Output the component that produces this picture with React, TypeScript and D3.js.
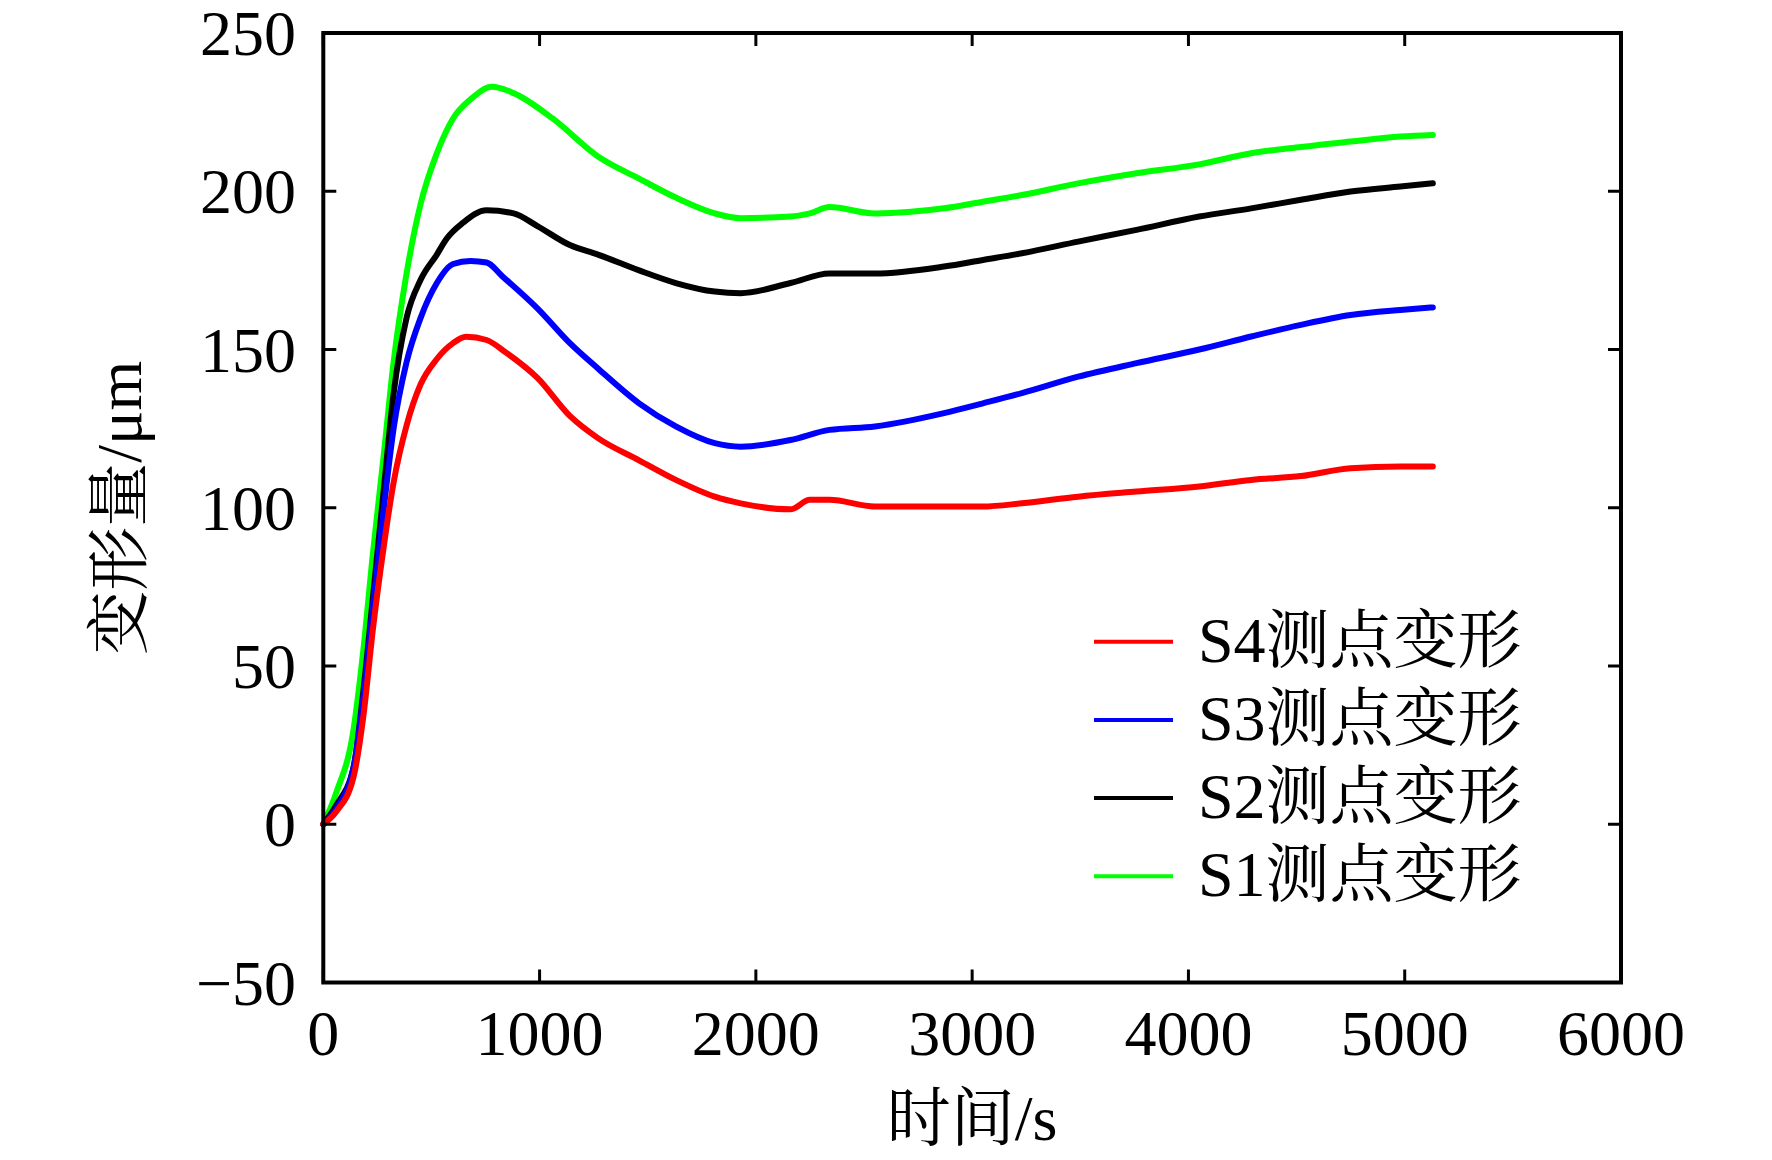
import React from "react";
import * as d3 from "d3";

// ---- data (time in s, deformation in μm) ----
const s1Points: [number, number][] = [
  [0, 0], [60, 10], [140, 30], [185, 55], [230, 86], [280, 117], [325, 146], [385, 174],
  [450, 196], [525, 212], [600, 223], [680, 229], [780, 233], [880, 231], [1060, 223],
  [1270, 211], [1460, 204], [1630, 198], [1810, 193], [1930, 191.5], [2160, 192],
  [2250, 193], [2340, 195], [2550, 193], [2870, 194.6], [3050, 196.7], [3230, 198.8],
  [3490, 202.5], [3760, 205.7], [4050, 208.5], [4290, 212], [4520, 214], [4750, 215.7],
  [4980, 217.3], [5130, 217.8],
];
const s2Points: [number, number][] = [
  [0, 0], [60, 6], [140, 18], [185, 42], [230, 72], [280, 106], [325, 136], [385, 160],
  [450, 172], [525, 180], [570, 185], [645, 190], [755, 194], [880, 193], [990, 189],
  [1140, 183], [1270, 180], [1460, 175], [1630, 171], [1810, 168.3], [1930, 167.8],
  [2160, 171], [2340, 174], [2550, 174], [2870, 176.2], [3050, 178.3], [3230, 180.4],
  [3490, 184.1], [3760, 187.8], [4050, 192], [4290, 194.6], [4520, 197.3], [4750, 199.9],
  [4980, 201.5], [5130, 202.5],
];
const s3Points: [number, number][] = [
  [0, 0], [60, 5], [140, 18], [185, 40], [230, 69], [280, 100], [325, 125], [385, 146],
  [450, 160], [525, 171], [600, 177], [680, 178], [755, 177.5], [830, 173], [990, 163],
  [1140, 152], [1270, 144], [1460, 133], [1630, 125.7], [1810, 120.4], [1930, 119.3],
  [2160, 121.4], [2340, 124.6], [2550, 125.7], [2870, 129.9], [3050, 133], [3230, 136.2],
  [3490, 141.4], [3760, 145.7], [4050, 150], [4290, 154.1], [4520, 157.8], [4750, 160.9],
  [4980, 162.5], [5130, 163.3],
];
const s4Points: [number, number][] = [
  [0, 0], [60, 4], [140, 15], [185, 34], [230, 62], [280, 88], [325, 108], [385, 126],
  [450, 139], [525, 147], [600, 152], [660, 154], [755, 153], [845, 149], [990, 141],
  [1140, 129], [1270, 122], [1460, 115], [1630, 108.8], [1810, 103.5], [1930, 101.4],
  [2160, 99.5], [2250, 102.5], [2340, 102.5], [2550, 100.4], [2870, 100.4], [3050, 100.4],
  [3230, 101.4], [3490, 103.5], [3760, 105.1], [4050, 106.7], [4290, 108.8], [4520, 110],
  [4750, 112.5], [4980, 113], [5130, 113],
];

const seriesNames = ["S4测点变形", "S3测点变形", "S2测点变形", "S1测点变形"];
const seriesColors = ["#ff0000", "#0000ff", "#000000", "#00ff00"];
const seriesData = [s4Points, s3Points, s2Points, s1Points];

const xTicks = [0, 1000, 2000, 3000, 4000, 5000, 6000];
const yTicks = [-50, 0, 50, 100, 150, 200, 250];
const xTitle = "时间/s";
const yTitle = "变形量/μm";

const W = 1772;
const H = 1160;
const M = { left: 323.3, right: 1621, top: 33, bottom: 982.5 };
const FONT = "'Liberation Serif', 'Times New Roman', 'Noto Serif CJK SC', 'Noto Sans CJK SC', serif";

export default function App() {
  const x = d3.scaleLinear().domain([0, 6000]).range([M.left, M.right]);
  const y = d3.scaleLinear().domain([-50, 250]).range([M.bottom, M.top]);
  const line = d3
    .line<[number, number]>()
    .x((d) => x(d[0]))
    .y((d) => y(d[1]))
    .curve(d3.curveMonotoneX);

  const fmt = (v: number) => (v < 0 ? "\u2212" + Math.abs(v) : String(v));
  const tickLen = 13;
  const drawOrder = [3, 2, 1, 0];

  return (
    <div style={{ position: "absolute", left: 0, top: 0 }}>
      <svg width={W} height={H} viewBox={`0 0 ${W} ${H}`} style={{ display: "block", background: "#fff" }}>
        <rect x={0} y={0} width={W} height={H} fill="#fff" />
        {/* curves */}
        {drawOrder.map((i) => (
          <path
            key={seriesNames[i]}
            d={line(seriesData[i]) || ""}
            fill="none"
            stroke={seriesColors[i]}
            strokeWidth={6}
            strokeLinejoin="round"
            strokeLinecap="round"
          />
        ))}
        {/* ticks */}
        {xTicks.map((t) => (
          <g key={"xt" + t}>
            <line x1={x(t)} x2={x(t)} y1={M.bottom} y2={M.bottom - tickLen} stroke="#000" strokeWidth={3} />
            <line x1={x(t)} x2={x(t)} y1={M.top} y2={M.top + tickLen} stroke="#000" strokeWidth={3} />
            <text x={x(t)} y={1055} textAnchor="middle" fontFamily={FONT} fontSize={64} fill="#000">
              {fmt(t)}
            </text>
          </g>
        ))}
        {yTicks.map((t) => (
          <g key={"yt" + t}>
            <line x1={M.left} x2={M.left + tickLen} y1={y(t)} y2={y(t)} stroke="#000" strokeWidth={3} />
            <line x1={M.right} x2={M.right - tickLen} y1={y(t)} y2={y(t)} stroke="#000" strokeWidth={3} />
            <text x={296} y={y(t) + 22} textAnchor="end" fontFamily={FONT} fontSize={64} fill="#000">
              {fmt(t)}
            </text>
          </g>
        ))}
        {/* frame */}
        <rect
          x={M.left}
          y={M.top}
          width={M.right - M.left}
          height={M.bottom - M.top}
          fill="none"
          stroke="#000"
          strokeWidth={4}
        />
        {/* axis titles */}
        <text x={972} y={1140} textAnchor="middle" fontFamily={FONT} fontSize={64} fill="#000">
          {xTitle}
        </text>
        <text
          transform={`translate(141, ${(M.top + M.bottom) / 2}) rotate(-90)`}
          textAnchor="middle"
          fontFamily={FONT}
          fontSize={64}
          fill="#000"
        >
          {yTitle}
        </text>
        {/* legend */}
        {seriesNames.map((name, i) => {
          const ly = 641.7 + i * 78.2;
          return (
            <g key={"lg" + name}>
              <line x1={1094} x2={1173} y1={ly} y2={ly} stroke={seriesColors[i]} strokeWidth={4} />
              <text x={1198} y={ly + 20} fontFamily={FONT} fontSize={64} fill="#000">
                {name}
              </text>
            </g>
          );
        })}
      </svg>
    </div>
  );
}
